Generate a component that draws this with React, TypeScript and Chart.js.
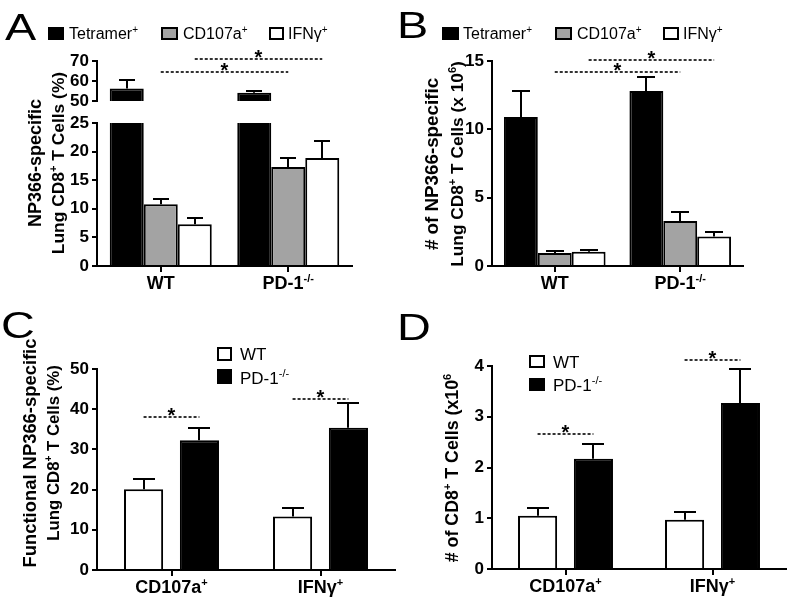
import React, { useEffect, useRef } from 'react';
import { Chart, registerables } from 'chart.js';

Chart.register(...registerables);

const FONT = '"Liberation Sans", Arial, Helvetica, sans-serif';

// ---------------- data ----------------
// Panels A & B
const groupsAB = ['WT', 'PD-1^{-/-}'];
const seriesAB = ['Tetramer^{+}', 'CD107a^{+}', 'IFNγ^{+}'];
const colorsAB = ['#000000', '#a3a3a3', '#ffffff'];

// A: NP366-specific lung CD8+ T cells (%)
const pctTetramer = [56.3, 54.1];
const pctTetramerErr = [4.0, 1.0];
const pctCD107a = [10.8, 17.3];
const pctCD107aErr = [1.0, 1.6];
const pctIFNg = [7.3, 18.9];
const pctIFNgErr = [1.1, 2.9];
const yTitleA = ['NP366-specific', 'Lung CD8^{+} T Cells (%)'];
const sigA = [
  { series: 1, value: 64.5 },
  { series: 2, value: 71.0 },
];

// B: # of NP366-specific lung CD8+ T cells (x 10^6)
const numTetramer = [10.9, 12.8];
const numTetramerErr = [1.9, 1.05];
const numCD107a = [0.95, 3.3];
const numCD107aErr = [0.15, 0.65];
const numIFNg = [1.05, 2.15];
const numIFNgErr = [0.15, 0.35];
const yTitleB = ['# of NP366-specific', 'Lung CD8^{+} T Cells (x 10^{6})'];
const sigB = [
  { series: 1, value: 14.2 },
  { series: 2, value: 15.07 },
];

// Panels C & D
const groupsCD = ['CD107a^{+}', 'IFNγ^{+}'];
const seriesCD = ['WT', 'PD-1^{-/-}'];
const colorsCD = ['#ffffff', '#000000'];

// C: functional NP366-specific lung CD8+ T cells (%)
const funcPctWT = [20.1, 13.3];
const funcPctWTErr = [2.5, 2.0];
const funcPctKO = [32.3, 35.4];
const funcPctKOErr = [3.0, 6.1];
const yTitleC = ['Functional NP366-specific', 'Lung CD8^{+} T Cells (%)'];
const sigC = [
  { group: 0, value: 38.0 },
  { group: 1, value: 42.5 },
];

// D: # of CD8+ T cells (x10^6)
const funcNumWT = [1.05, 0.97];
const funcNumWTErr = [0.16, 0.15];
const funcNumKO = [2.17, 3.27];
const funcNumKOErr = [0.3, 0.68];
const yTitleD = ['# of CD8^{+} T Cells (x10^{6}'];
const sigD = [
  { group: 0, value: 2.66 },
  { group: 1, value: 4.12 },
];

// ---------------- rich text helpers ----------------
function parseRich(s: string) {
  const out: { t: string; sup: boolean }[] = [];
  const re = /\^\{([^}]*)\}/g;
  let last = 0;
  let m: RegExpExecArray | null;
  while ((m = re.exec(s))) {
    if (m.index > last) out.push({ t: s.slice(last, m.index), sup: false });
    out.push({ t: m[1], sup: true });
    last = re.lastIndex;
  }
  if (last < s.length) out.push({ t: s.slice(last), sup: false });
  return out;
}

function drawRich(ctx: CanvasRenderingContext2D, s: string, x: number, y: number, size: number, weight: string, align: string) {
  const segs = parseRich(s);
  const supSize = Math.round(size * 0.62);
  const fontFor = (sup: boolean) => `${weight} ${sup ? supSize : size}px ${FONT}`;
  let total = 0;
  const widths = segs.map((sg) => {
    ctx.font = fontFor(sg.sup);
    const w = ctx.measureText(sg.t).width;
    total += w;
    return w;
  });
  let cx = align === 'center' ? x - total / 2 : x;
  ctx.textAlign = 'left';
  ctx.textBaseline = 'alphabetic';
  segs.forEach((sg, i) => {
    ctx.font = fontFor(sg.sup);
    ctx.fillText(sg.t, cx, sg.sup ? y - size * 0.4 : y);
    cx += widths[i];
  });
}

// ---------------- chart builder ----------------
const W = 800;
const H = 607;
const YW = 45;
const XH = 8;

function drawDecor(chart: any, spec: any) {
  const ctx: CanvasRenderingContext2D = chart.ctx;
  const d = spec.decor;
  const area = chart.chartArea;
  ctx.save();
  ctx.fillStyle = '#000';
  if (d.letter) {
    ctx.save();
    ctx.translate(d.letter.x, d.letter.y);
    ctx.scale(1.3, 1);
    ctx.font = `36px ${FONT}`;
    ctx.textAlign = 'left';
    ctx.textBaseline = 'alphabetic';
    ctx.fillText(d.letter.text, 0, 0);
    ctx.restore();
  }
  if (d.legend) {
    d.legend.forEach((it: any, i: number) => {
      const ds = spec.datasets[i];
      ctx.fillStyle = ds.color;
      ctx.fillRect(it.x, it.y, it.w, it.h);
      ctx.strokeStyle = '#000';
      ctx.lineWidth = 2;
      ctx.strokeRect(it.x + 1, it.y + 1, it.w - 2, it.h - 2);
      ctx.fillStyle = '#000';
      drawRich(ctx, ds.label, it.tx, it.ty, it.size, 'normal', 'left');
    });
  }
  if (d.xLabels) {
    const xs = chart.scales.x;
    spec.labels.forEach((lab: string, i: number) => {
      drawRich(ctx, lab, xs.getPixelForValue(i), area.bottom + 23, 18, 'bold', 'center');
    });
  }
  if (d.title) {
    d.title.lines.forEach((l: any) => {
      ctx.save();
      ctx.translate(l.x, d.title.cy);
      ctx.rotate(-Math.PI / 2);
      drawRich(ctx, l.text, 0, 0, l.size, 'bold', 'center');
      ctx.restore();
    });
  }
  if (d.sigs) {
    const ys = chart.scales.y;
    d.sigs.forEach((s: any) => {
      const e1 = chart.getDatasetMeta(s.a[0]).data[s.a[1]];
      const e2 = chart.getDatasetMeta(s.b[0]).data[s.b[1]];
      const y = Math.round(ys.getPixelForValue(s.value));
      ctx.save();
      ctx.strokeStyle = '#333';
      ctx.lineWidth = 2;
      ctx.setLineDash([3, 2]);
      ctx.beginPath();
      ctx.moveTo(e1.x, y);
      ctx.lineTo(e2.x, y);
      ctx.stroke();
      ctx.restore();
      ctx.fillStyle = '#000';
      ctx.font = `bold 20px ${FONT}`;
      ctx.textAlign = 'center';
      ctx.textBaseline = 'alphabetic';
      ctx.fillText('*', (e1.x + e2.x) / 2, y + 4.5);
    });
  }
  ctx.restore();
}

function buildChart(canvas: HTMLCanvasElement, spec: any) {
  const errPlugin = {
    id: 'errBars',
    afterDatasetsDraw(chart: any) {
      const ctx: CanvasRenderingContext2D = chart.ctx;
      const ys = chart.scales.y;
      chart.data.datasets.forEach((ds: any, di: number) => {
        const meta = chart.getDatasetMeta(di);
        meta.data.forEach((bar: any, i: number) => {
          const v = ds.data[i];
          const e = ds.errors[i];
          if (v < ys.min || v + e > ys.max) return;
          const y0 = ys.getPixelForValue(v);
          const y1 = Math.round(ys.getPixelForValue(v + e));
          const x = Math.round(bar.x);
          ctx.save();
          ctx.strokeStyle = '#000';
          ctx.lineWidth = 2;
          ctx.beginPath();
          ctx.moveTo(x, y0);
          ctx.lineTo(x, y1);
          ctx.moveTo(x - spec.cap / 2, y1);
          ctx.lineTo(x + spec.cap / 2, y1);
          ctx.stroke();
          ctx.restore();
        });
      });
    },
  };
  const decorPlugin = {
    id: 'decor',
    afterDraw(chart: any) {
      drawDecor(chart, spec);
    },
  };
  const a = spec.area;
  return new Chart(canvas, {
    type: 'bar',
    data: {
      labels: spec.labels,
      datasets: spec.datasets.map((d: any) => ({
        label: d.label,
        data: d.data,
        errors: d.errors,
        backgroundColor: d.color,
        borderColor: '#000',
        borderWidth: 2,
        borderSkipped: 'start',
        barPercentage: spec.barPct,
        categoryPercentage: spec.catPct,
        clip: 0,
      })),
    } as any,
    options: {
      responsive: false,
      animation: false,
      devicePixelRatio: 1,
      events: [],
      layout: {
        padding: {
          left: a.left - YW,
          top: a.top,
          right: W - a.right,
          bottom: H - a.bottom - (spec.showX ? XH : 0),
        },
      },
      plugins: { legend: { display: false }, tooltip: { enabled: false } },
      scales: {
        x: {
          type: 'category',
          display: spec.showX,
          offset: true,
          ticks: { display: false },
          grid: {
            display: true,
            drawOnChartArea: false,
            drawTicks: true,
            tickLength: 6,
            offset: false,
            color: '#000',
            lineWidth: 2,
          },
          border: { display: true, color: '#000', width: 2, z: 1 },
          afterFit: (s: any) => {
            s.height = spec.showX ? XH : 0;
          },
        },
        y: {
          type: 'linear',
          min: spec.yMin,
          max: spec.yMax,
          ticks: {
            stepSize: spec.yStep,
            autoSkip: false,
            color: '#000',
            padding: 3,
            font: { family: FONT, size: 17, weight: 'bold' },
          },
          grid: {
            drawOnChartArea: false,
            drawTicks: true,
            tickLength: 5,
            color: '#000',
            lineWidth: 2,
          },
          border: { display: true, color: '#000', width: 2, z: 1 },
          afterFit: (s: any) => {
            s.width = YW;
          },
        },
      },
    } as any,
    plugins: [errPlugin, decorPlugin],
  });
}

// ---------------- panel specs ----------------
const datasetsA = seriesAB.map((label, i) => ({
  label,
  data: [pctTetramer, pctCD107a, pctIFNg][i],
  errors: [pctTetramerErr, pctCD107aErr, pctIFNgErr][i],
  color: colorsAB[i],
}));
const datasetsB = seriesAB.map((label, i) => ({
  label,
  data: [numTetramer, numCD107a, numIFNg][i],
  errors: [numTetramerErr, numCD107aErr, numIFNgErr][i],
  color: colorsAB[i],
}));
const datasetsC = seriesCD.map((label, i) => ({
  label,
  data: [funcPctWT, funcPctKO][i],
  errors: [funcPctWTErr, funcPctKOErr][i],
  color: colorsCD[i],
}));
const datasetsD = seriesCD.map((label, i) => ({
  label,
  data: [funcNumWT, funcNumKO][i],
  errors: [funcNumWTErr, funcNumKOErr][i],
  color: colorsCD[i],
}));

const legendA = [
  { x: 48, y: 27, w: 16, h: 13, tx: 69, ty: 39, size: 16 },
  { x: 161, y: 27, w: 17, h: 13, tx: 183, ty: 39, size: 16 },
  { x: 269, y: 27, w: 15, h: 13, tx: 288, ty: 39, size: 16 },
];
const legendB = [
  { x: 442, y: 27, w: 17, h: 13, tx: 463, ty: 39, size: 16 },
  { x: 555, y: 27, w: 17, h: 13, tx: 577, ty: 39, size: 16 },
  { x: 663, y: 27, w: 16, h: 13, tx: 683, ty: 39, size: 16 },
];
const legendC = [
  { x: 217, y: 347, w: 15, h: 14, tx: 240, ty: 360, size: 17 },
  { x: 217, y: 369, w: 15, h: 15, tx: 240, ty: 384, size: 17 },
];
const legendD = [
  { x: 529, y: 355, w: 16, h: 13, tx: 553, ty: 368, size: 17 },
  { x: 529, y: 378, w: 16, h: 13, tx: 553, ty: 391, size: 17 },
];

const specAUpper = {
  labels: groupsAB,
  datasets: datasetsA,
  area: { left: 97, top: 61, right: 352, bottom: 101 },
  yMin: 50, yMax: 70, yStep: 10,
  showX: false, catPct: 0.8, barPct: 1.0, cap: 16,
  decor: {
    letter: { text: 'A', x: 5, y: 40 },
    legend: legendA,
    sigs: sigA.map((s) => ({ a: [s.series, 0], b: [s.series, 1], value: s.value })),
  },
};
const specALower = {
  labels: groupsAB,
  datasets: datasetsA,
  area: { left: 97, top: 123, right: 352, bottom: 266 },
  yMin: 0, yMax: 25, yStep: 5,
  showX: true, catPct: 0.8, barPct: 1.0, cap: 16,
  decor: {
    xLabels: true,
    title: { cy: 163, lines: [{ text: yTitleA[0], x: 41, size: 18 }, { text: yTitleA[1], x: 64, size: 17.4 }] },
  },
};
const specB = {
  labels: groupsAB,
  datasets: datasetsB,
  area: { left: 492, top: 61, right: 743, bottom: 266 },
  yMin: 0, yMax: 15, yStep: 5,
  showX: true, catPct: 0.81, barPct: 1.0, cap: 18,
  decor: {
    letter: { text: 'B', x: 397, y: 38 },
    legend: legendB,
    xLabels: true,
    title: { cy: 164, lines: [{ text: yTitleB[0], x: 438, size: 18.8 }, { text: yTitleB[1], x: 463, size: 17.3 }] },
    sigs: sigB.map((s) => ({ a: [s.series, 0], b: [s.series, 1], value: s.value })),
  },
};
const specC = {
  labels: groupsCD,
  datasets: datasetsC,
  area: { left: 97, top: 369, right: 395, bottom: 570 },
  yMin: 0, yMax: 50, yStep: 10,
  showX: true, catPct: 0.75, barPct: 0.7, cap: 22,
  decor: {
    letter: { text: 'C', x: 1, y: 338 },
    legend: legendC,
    xLabels: true,
    title: { cy: 453, lines: [{ text: yTitleC[0], x: 36, size: 18.4 }, { text: yTitleC[1], x: 59, size: 16.8 }] },
    sigs: sigC.map((s) => ({ a: [0, s.group], b: [1, s.group], value: s.value })),
  },
};
const specD = {
  labels: groupsCD,
  datasets: datasetsD,
  area: { left: 492, top: 366, right: 786, bottom: 569 },
  yMin: 0, yMax: 4, yStep: 1,
  showX: true, catPct: 0.76, barPct: 0.7, cap: 22,
  decor: {
    letter: { text: 'D', x: 397, y: 340 },
    legend: legendD,
    xLabels: true,
    title: { cy: 468, lines: [{ text: yTitleD[0], x: 458, size: 17.8 }] },
    sigs: sigD.map((s) => ({ a: [0, s.group], b: [1, s.group], value: s.value })),
  },
};

const SPECS = [specAUpper, specALower, specB, specC, specD];

export default function App() {
  const refs = useRef<(HTMLCanvasElement | null)[]>([]);
  useEffect(() => {
    const charts = SPECS.map((spec, i) => buildChart(refs.current[i] as HTMLCanvasElement, spec));
    return () => charts.forEach((c) => c.destroy());
  }, []);
  return (
    <div style={{ position: 'fixed', left: 0, top: 0, width: W, height: H, background: '#fff', overflow: 'hidden' }}>
      {SPECS.map((_, i) => (
        <canvas
          key={i}
          ref={(el) => {
            refs.current[i] = el;
          }}
          width={W}
          height={H}
          style={{ position: 'absolute', left: 0, top: 0, width: W, height: H }}
        />
      ))}
    </div>
  );
}
